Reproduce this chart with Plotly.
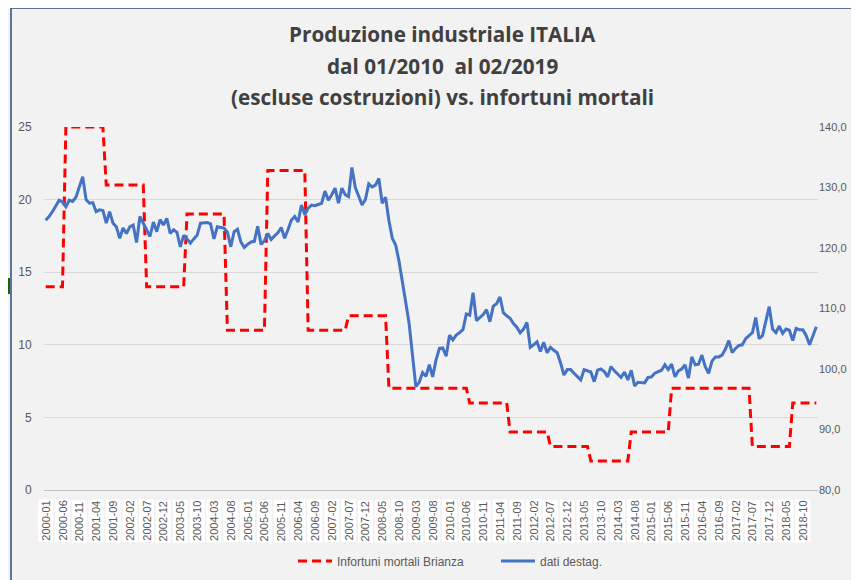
import plotly.graph_objects as go

# ---------------- data ----------------
months = [f"{y}-{m:02d}" for y in range(2000, 2020) for m in range(1, 13)][:230]

tick_labels = months[::5]

infortuni_brianza = (
    [14] * 6 + [25] * 12 + [21] * 12 + [14] * 12 + [19] * 12 + [11] * 12 +
    [22] * 12 + [11] * 12 + [12] * 12 + [7] * 24 + [6] * 12 + [4] * 12 +
    [3] * 12 + [2] * 12 + [4] * 12 + [7] * 24 + [3] * 12 + [6] * 8
)

dati_destag = [
    124.6, 125.2, 126.0, 127.0, 127.9, 127.6, 126.8, 127.9, 127.7, 128.4,
    130.0, 131.8, 128.0, 127.4, 127.5, 126.0, 126.3, 126.2, 124.1, 126.0,
    124.1, 123.5, 121.6, 123.3, 122.4, 123.5, 123.8, 120.9, 125.2, 124.1,
    123.0, 121.9, 124.3, 122.7, 124.7, 123.8, 124.9, 122.4, 123.0, 122.6,
    120.2, 122.1, 121.5, 120.8, 121.5, 122.1, 124.1, 124.2, 124.2, 124.0,
    121.5, 123.5, 123.4, 123.3, 122.6, 120.2, 122.7, 123.1, 121.0, 120.1,
    120.6, 121.0, 121.1, 123.6, 120.6, 121.2, 122.4, 121.4, 122.0, 122.5,
    123.4, 121.6, 123.0, 124.6, 125.2, 124.3, 127.1, 125.5, 126.6, 127.1,
    127.0, 127.2, 127.4, 129.4, 127.9, 128.8, 129.9, 127.4, 129.9, 128.8,
    128.5, 133.3, 130.0, 128.6, 127.1, 128.0, 130.6, 130.1, 130.4, 131.5,
    127.4, 128.4, 124.5, 121.6, 120.5, 117.8, 114.7, 111.0, 107.5, 102.0,
    97.1, 97.8, 99.4, 98.8, 100.7, 98.7, 101.5, 103.4, 103.5, 102.1,
    105.6, 104.8, 105.6, 106.0, 106.5, 109.1, 108.9, 112.6, 108.0, 108.5,
    109.0, 109.8, 107.8, 110.4, 110.8, 111.9, 109.3, 108.8, 108.4, 107.5,
    106.9, 106.0, 106.6, 107.7, 103.6, 104.0, 104.5, 102.9, 104.4, 102.7,
    103.6, 103.1, 102.7, 101.0, 99.0, 99.9, 99.9, 99.3, 98.8, 98.2,
    99.9, 99.7, 99.5, 97.9, 99.8, 100.0, 99.6, 98.7, 100.4, 99.7,
    99.1, 98.6, 99.5, 98.2, 99.8, 97.2, 97.8, 97.7, 97.7, 98.6,
    98.7, 99.3, 99.5, 99.8, 100.7, 99.9, 100.8, 98.7, 99.7, 100.0,
    100.7, 98.5, 102.0, 100.7, 100.8, 102.3, 100.4, 99.3, 101.3, 102.0,
    102.0, 102.3, 103.3, 104.7, 102.7, 103.4, 103.9, 104.0, 105.0, 105.5,
    106.0, 108.5, 105.0, 105.5, 107.8, 110.3, 106.6, 106.0, 107.1, 105.9,
    106.6, 106.4, 104.7, 106.7, 106.5, 106.5, 105.5, 104.0, 105.5, 107.0,
]

title_lines = [
    "Produzione industriale ITALIA",
    "dal 01/2010  al 02/2019",
    "(escluse costruzioni) vs. infortuni mortali",
]

# ---------------- figure ----------------
W, H = 851, 572
OFF = 8                      # page body margin
L, T = 44 - OFF, 127 - OFF   # plot area top-left in figure pixels
R = W - (818 - OFF)
B = H - (490 - OFF)
ph = H - T - B
pw = W - L - R

def py(screen_y):  # screenshot pixel y -> paper y
    return (H - B - (screen_y - OFF)) / ph

def px(screen_x):  # screenshot pixel x -> paper x
    return ((screen_x - OFF) - L) / pw

fig = go.Figure()

fig.add_trace(go.Scatter(
    x=months, y=infortuni_brianza, name="Infortuni mortali Brianza",
    mode="lines", line=dict(color="#FF0000", width=3, dash="9px,5px"),
    yaxis="y",
))
fig.add_trace(go.Scatter(
    x=months, y=dati_destag, name="dati destag.",
    mode="lines", line=dict(color="#4472C4", width=3),
    yaxis="y2",
))

annotations = []
for i, t in enumerate(title_lines):
    annotations.append(dict(
        text=f"<b>{t}</b>", x=px(442), y=py([34, 66, 97][i]),
        xref="paper", yref="paper", xanchor="center", yanchor="middle",
        showarrow=False, font=dict(family="Open Sans", size=20.7, color="#404040"),
    ))
for lab in tick_labels:
    annotations.append(dict(
        text=lab, x=lab, xref="x", y=0, yref="paper",
        xanchor="center", yanchor="top", yshift=-9, textangle=-90,
        showarrow=False, bgcolor="white", borderpad=1,
        font=dict(family="Liberation Sans", size=11, color="#595959"),
    ))

shapes = [
    # frame border
    dict(type="line", xref="paper", yref="paper", x0=px(11), x1=px(11),
         y0=py(8), y1=py(600), line=dict(color="#2F4A7A", width=1.5)),
    dict(type="line", xref="paper", yref="paper", x0=px(11), x1=px(870),
         y0=py(8), y1=py(8), line=dict(color="#2F4A7A", width=1.5)),
    # green marker on the left edge
    dict(type="rect", xref="paper", yref="paper", x0=px(0), x1=px(10),
         y0=py(294), y1=py(278), fillcolor="#0B6B0B", line_width=0),
]

fig.update_layout(
    width=W, height=H,
    margin=dict(l=L, r=R, t=T, b=B, autoexpand=False),
    paper_bgcolor="#F2F2F2", plot_bgcolor="#F2F2F2",
    separators=",.",
    font=dict(family="Liberation Sans", size=12, color="#595959"),
    showlegend=True,
    legend=dict(orientation="h", x=px(293), xanchor="left", y=py(561),
                yanchor="middle", font=dict(size=12, color="#595959"),
                bgcolor="rgba(0,0,0,0)", itemwidth=34, entrywidth=154,
                tracegroupgap=0),
    xaxis=dict(type="category", range=[-0.5, 229.5], showticklabels=False,
               showgrid=False, showline=True, linecolor="#BFBFBF", linewidth=1,
               ticks="", zeroline=False, automargin=False),
    yaxis=dict(range=[0, 25], tickvals=[0, 5, 10, 15, 20, 25],
               showgrid=True, gridcolor="#D9D9D9", gridwidth=1,
               zeroline=False, ticks="outside", ticklen=9, tickcolor="rgba(0,0,0,0)",
               tickfont=dict(size=12, color="#595959"), automargin=False),
    yaxis2=dict(range=[80, 140], tickvals=[80, 90, 100, 110, 120, 130, 140],
                tickformat=".1f", overlaying="y", side="right", showgrid=False,
                zeroline=False, ticks="", automargin=False,
                tickfont=dict(size=11, color="#595959")),
    annotations=annotations,
    shapes=shapes,
)

fig.write_html("out.html")
